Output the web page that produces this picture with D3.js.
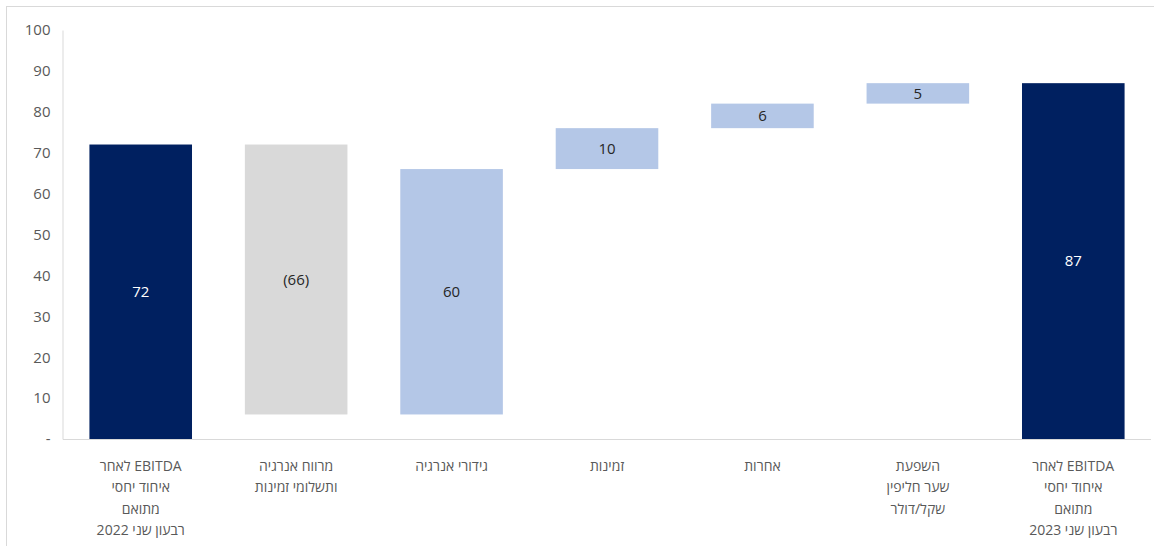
<!DOCTYPE html>
<html>
<head>
<meta charset="utf-8">
<script src="https://cdn.jsdelivr.net/npm/d3@7"></script>
<style>
  body { margin: 0; background: #fff; }
  text { font-family: "Open Sans", "Noto Sans", sans-serif; }
</style>
</head>
<body>
<svg width="1154" height="546"></svg>
<script>
var svg = d3.select('svg');

// categories, one label per line
var categories = [
    ["EBITDA לאחר", "איחוד יחסי", "מתואם", "רבעון שני 2022"],
    ["מרווח אנרגיה", "ותשלומי זמינות"],
    ["גידורי אנרגיה"],
    ["זמינות"],
    ["אחרות"],
    ["השפעת", "שער חליפין", "שקל/דולר"],
    ["EBITDA לאחר", "איחוד יחסי", "מתואם", "רבעון שני 2023"]
];
var changes = [72, -66, 60, 10, 6, 5, 87];
var kinds = ["total", "down", "up", "up", "up", "up", "total"];
var valueLabels = ["72", "(66)", "60", "10", "6", "5", "87"];
var yTicks = [0, 10, 20, 30, 40, 50, 60, 70, 80, 90, 100];

var colors = { total: "#002060", down: "#d9d9d9", up: "#b4c7e7" };

// build waterfall segments
var running = 0;
var bars = changes.map(function (v, i) {
    var lo, hi;
    if (kinds[i] == "total") {
        lo = 0; hi = v; running = v;
    } else {
        lo = Math.min(running, running + v);
        hi = Math.max(running, running + v);
        running = running + v;
    }
    return { i: i, lo: lo, hi: hi, kind: kinds[i], label: valueLabels[i] };
});

var plotLeft = 63, plotRight = 1151, plotTop = 30, plotBottom = 439;

var x = d3.scaleBand()
    .domain(d3.range(categories.length))
    .range([plotLeft, plotRight])
    .paddingInner(0.34)
    .paddingOuter(0.17);

var y = d3.scaleLinear().domain([0, 100]).range([plotBottom, plotTop]);

// outer frame
svg.append("rect")
    .attr("x", 6.5).attr("y", 6.5)
    .attr("width", 1300).attr("height", 700)
    .attr("fill", "none")
    .attr("stroke", "#d9d9d9");

// y axis
var yAxis = d3.axisLeft(y)
    .tickValues(yTicks)
    .tickSize(0)
    .tickPadding(12)
    .tickFormat(function (d) { return d == 0 ? "-" : d; });

var gy = svg.append("g")
    .attr("transform", "translate(" + (plotLeft - 0.5) + ",0)")
    .call(yAxis);
gy.select(".domain").attr("stroke", "#d9d9d9");
gy.selectAll("text")
    .attr("fill", "#595959")
    .style("font-size", "15px");

// x axis line
svg.append("line")
    .attr("x1", plotLeft).attr("x2", plotRight)
    .attr("y1", plotBottom + 0.5).attr("y2", plotBottom + 0.5)
    .attr("stroke", "#d9d9d9");

// bars
svg.selectAll("rect.bar")
    .data(bars)
    .enter()
    .append("rect")
    .attr("class", "bar")
    .attr("x", function (d) { return x(d.i); })
    .attr("width", x.bandwidth())
    .attr("y", function (d) { return y(d.hi); })
    .attr("height", function (d) { return y(d.lo) - y(d.hi); })
    .attr("fill", function (d) { return colors[d.kind]; });

// value labels
svg.selectAll("text.val")
    .data(bars)
    .enter()
    .append("text")
    .attr("class", "val")
    .attr("x", function (d) { return x(d.i) + x.bandwidth() / 2; })
    .attr("y", function (d) { return (y(d.lo) + y(d.hi)) / 2; })
    .attr("dy", "0.35em")
    .attr("text-anchor", "middle")
    .style("font-size", "15px")
    .attr("fill", function (d) { return d.kind == "total" ? "#ffffff" : "#262626"; })
    .text(function (d) { return d.label; });

// category labels
var cat = svg.selectAll("text.cat")
    .data(categories)
    .enter()
    .append("text")
    .attr("class", "cat")
    .attr("direction", "rtl")
    .attr("text-anchor", "middle")
    .attr("fill", "#595959")
    .style("font-size", "14px")
    .attr("transform", function (d, i) {
        return "translate(" + (x(i) + x.bandwidth() / 2) + "," + 471 + ")";
    });

cat.selectAll("tspan")
    .data(function (d) { return d; })
    .enter()
    .append("tspan")
    .attr("x", 0)
    .attr("y", function (d, j) { return j * 21.3; })
    .text(function (d) { return d; });
</script>
</body>
</html>
